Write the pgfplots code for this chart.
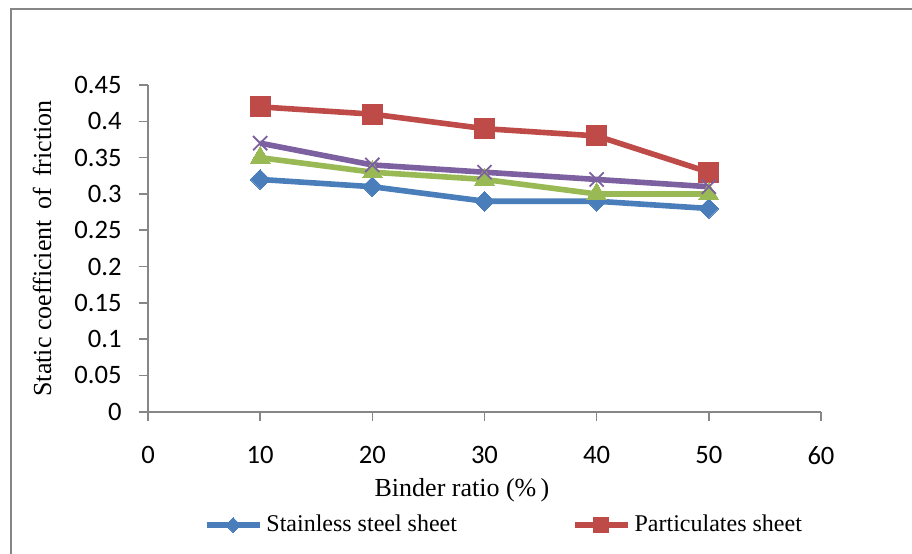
\documentclass[border=0pt]{standalone}
\usepackage{pgfplots}
\pgfplotsset{compat=1.18}
\usepackage{fontspec}
\setmainfont{Liberation Serif}
\newfontfamily\calibri{Carlito}
\definecolor{sblue}{HTML}{4A7EBB}
\definecolor{sred}{HTML}{BE4B48}
\definecolor{sgreen}{HTML}{98B954}
\definecolor{spurple}{HTML}{7D60A0}
\definecolor{axgray}{HTML}{868686}
\begin{document}
\begin{tikzpicture}
% 1px = 0.5pt ; axis origin at px (148,411.7)
\clip (-74pt,-70.65pt) rectangle (382pt,205.85pt);
\useasboundingbox (-74pt,-70.65pt) rectangle (382pt,205.85pt);
\draw[axgray, line width=0.8pt] (-68.5pt,-71pt) -- (-68.5pt,201.35pt) -- (383pt,201.35pt);
\begin{axis}[
  at={(0pt,0pt)}, anchor=south west,
  scale only axis, width=336.5pt, height=163.3pt,
  xmin=0, xmax=60, ymin=0, ymax=0.45,
  xtick={0,10,...,60},
  ytick={0,0.05,...,0.45},
  yticklabels={0,0.05,0.1,0.15,0.2,0.25,0.3,0.35,0.4,0.45},
  axis x line*=bottom, axis y line*=left,
  axis line style={axgray, line width=0.8pt, -},
  tick style={axgray, line width=0.8pt},
  tick align=outside, major tick length=4.5pt,
  /pgf/number format/assume math mode=true,
  ticklabel style={font=\calibri\fontsize{13.3}{15}\selectfont},
  xticklabel style={yshift=-8pt},
  yticklabel style={xshift=-4pt},
  every axis y label/.style={at={(axis description cs:-0.1575,0.5)}, anchor=center, rotate=90, font=\fontsize{13}{15}\selectfont},
  every axis x label/.style={at={(axis description cs:0.4666,-0.2397)}, anchor=center, font=\fontsize{13}{15}\selectfont},
  ylabel={Static coefficient \,of \,friction},
  xlabel={Binder ratio (\%\,)},
  legend columns=2,
  legend style={draw=none, fill=none, inner sep=0pt,
    at={(axis description cs:0.0788,-0.3468)}, anchor=west,
    font=\fontsize{12}{14}\selectfont,
    /tikz/every even column/.append style={column sep=55.5pt},
    cells={anchor=west}},
  legend image code/.code={
    \draw[#1, mark=none] (0pt,0pt) -- (26.5pt,0pt);
    \draw[#1, only marks, mark size=0.75*\pgfplotmarksize] plot coordinates {(13.25pt,0pt)};
  },
  line width=2.8pt,
  clip=false,
]
\addplot[color=sblue, mark=square*, mark size=3.5pt, mark options={rotate=45, line width=0pt}] coordinates {(10,0.32) (20,0.31) (30,0.29) (40,0.29) (50,0.28)};
\addlegendentry{Stainless steel sheet}
\addplot[color=sred, mark=square*, mark size=5pt, mark options={line width=0pt}] coordinates {(10,0.42) (20,0.41) (30,0.39) (40,0.38) (50,0.33)};
\addlegendentry{Particulates sheet}
\addplot[forget plot, color=sgreen, mark=triangle*, mark size=5.7pt, mark options={line width=0pt}] coordinates {(10,0.35) (20,0.33) (30,0.32) (40,0.30) (50,0.30)};
\addplot[forget plot, color=spurple, mark=x, mark size=5pt, mark options={line width=0.9pt}] coordinates {(10,0.37) (20,0.34) (30,0.33) (40,0.32) (50,0.31)};
\end{axis}
\end{tikzpicture}
\end{document}
